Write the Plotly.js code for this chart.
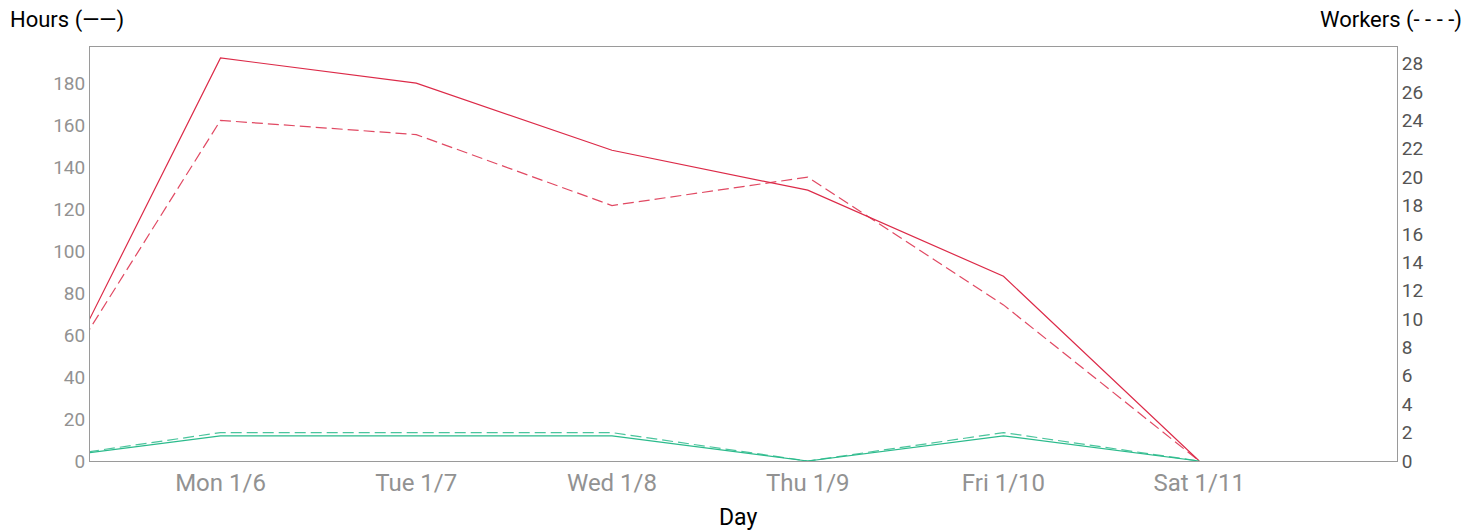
<!DOCTYPE html>
<html>
<head>
<meta charset="utf-8">
<script src="https://cdn.plot.ly/plotly-3.0.1.min.js"></script>
<style>html,body{margin:0;padding:0;background:#fff;}#chart{width:1484px;height:530px;}</style>
</head>
<body>
<div id="chart"></div>
<script>
// Data
const days = ['2025-01-05','2025-01-06','2025-01-07','2025-01-08','2025-01-09','2025-01-10','2025-01-11'];
const tickDays = ['2025-01-06','2025-01-07','2025-01-08','2025-01-09','2025-01-10','2025-01-11'];
const tickLabels = ['Mon 1/6','Tue 1/7','Wed 1/8','Thu 1/9','Fri 1/10','Sat 1/11'];
const redHours   = [6, 192, 180, 148, 129, 88, 0];
const redWorkers = [2, 24, 23, 18, 20, 11, 0];
const greenHours   = [0, 12, 12, 12, 0, 12, 0];
const greenWorkers = [0, 2, 2, 2, 0, 2, 0];
const hoursTicks = [0,20,40,60,80,100,120,140,160,180];
const workerTicks = [0,2,4,6,8,10,12,14,16,18,20,22,24,26,28];

const RED = '#dc2a48';
const GREEN = '#2bbb8c';
const FONT = 'Roboto, sans-serif';

const traces = [
  {x: days, y: redHours, type:'scatter', mode:'lines', yaxis:'y', line:{color:RED, width:1.2}, showlegend:false, name:'Hours'},
  {x: days, y: redWorkers, type:'scatter', mode:'lines', yaxis:'y2', line:{color:RED, width:1.2, dash:'11px,5px'}, opacity:0.85, showlegend:false, name:'Workers'},
  {x: days, y: greenHours, type:'scatter', mode:'lines', yaxis:'y', line:{color:GREEN, width:1.2}, showlegend:false, name:'Hours'},
  {x: days, y: greenWorkers, type:'scatter', mode:'lines', yaxis:'y2', line:{color:GREEN, width:1.2, dash:'11px,5px'}, opacity:0.85, showlegend:false, name:'Workers'}
];

const layout = {
  width: 1484, height: 530,
  margin: {l: 90, r: 87, t: 47, b: 69, pad: 0},
  paper_bgcolor: '#fff', plot_bgcolor: '#fff',
  font: {family: FONT, color: '#000'},
  xaxis: {
    type: 'date',
    range: ['2025-01-05 08:00', '2025-01-12 00:15'],
    tickmode: 'array', tickvals: tickDays, ticktext: tickLabels,
    showgrid: false, zeroline: false,
    showline: true, linecolor: '#9a9a9a', linewidth: 1, mirror: true,
    ticks: '', ticklen: 0,
    tickfont: {family: FONT, size: 24, color: '#929292'}
  },
  yaxis: {
    range: [0, 197.2],
    tickmode: 'array', tickvals: hoursTicks,
    showgrid: false, zeroline: false,
    showline: true, linecolor: '#9a9a9a', linewidth: 1,
    ticks: '',
    tickfont: {family: FONT, size: 19, color: '#929292'}
  },
  yaxis2: {
    range: [0, 29.17],
    overlaying: 'y', side: 'right',
    tickmode: 'array', tickvals: workerTicks,
    showgrid: false, zeroline: false,
    showline: true, linecolor: '#9a9a9a', linewidth: 1,
    ticks: '',
    tickfont: {family: FONT, size: 19, color: '#555'}
  },
  annotations: [
    {text: 'Hours (——)', xref: 'paper', yref: 'paper', x: -0.063, y: 1.065, xanchor: 'left', yanchor: 'middle', showarrow: false, font: {family: FONT, size: 22, color: '#000'}},
    {text: 'Workers (- - - -)', xref: 'paper', yref: 'paper', x: 1.051, y: 1.065, xanchor: 'right', yanchor: 'middle', showarrow: false, font: {family: FONT, size: 22, color: '#000'}},
    {text: 'Day', xref: 'paper', yref: 'paper', x: 0.4956, y: -0.136, xanchor: 'center', yanchor: 'middle', showarrow: false, font: {family: FONT, size: 23, color: '#000'}}
  ]
};

Plotly.newPlot('chart', traces, layout, {displayModeBar: false, responsive: false});
</script>
</body>
</html>
